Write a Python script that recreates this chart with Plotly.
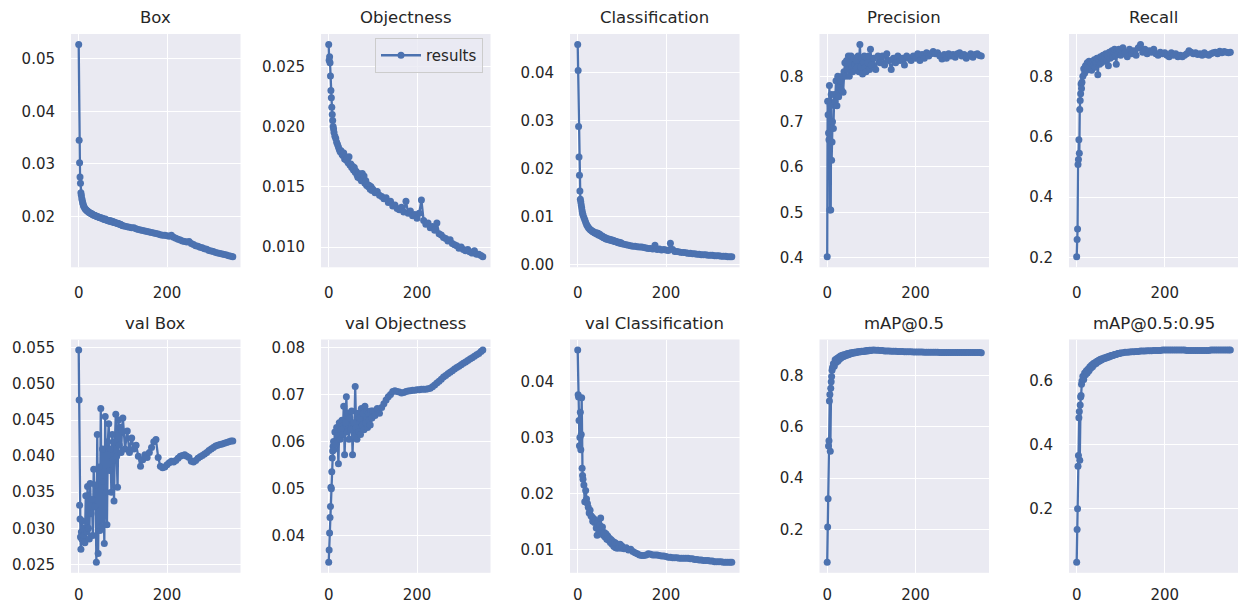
import plotly.graph_objects as go

# Training epochs at which values are logged
EPOCHS = list(range(0, 12)) + list(range(12, 100, 2)) + list(range(100, 350, 5)) + [349]

BOX = [
    0.0527, 0.0345, 0.0302, 0.0275, 0.0263, 0.0245, 0.0240, 0.0234, 0.0230, 0.0226, 0.0223, 0.0220,
    0.0218, 0.0215, 0.0213, 0.0211, 0.0210, 0.0208, 0.0207, 0.0206, 0.0205, 0.0205, 0.0203,
    0.0202, 0.0202, 0.0201, 0.0200, 0.0199, 0.0199, 0.0198, 0.0197, 0.0197, 0.0196, 0.0196,
    0.0195, 0.0194, 0.0195, 0.0193, 0.0193, 0.0192, 0.0191, 0.0192, 0.0190, 0.0191, 0.0189,
    0.0190, 0.0188, 0.0188, 0.0187, 0.0187, 0.0186, 0.0186, 0.0185, 0.0185, 0.0184, 0.0183,
    0.0182, 0.0181, 0.0180, 0.0179, 0.0178, 0.0178, 0.0176, 0.0175, 0.0174, 0.0173,
    0.0172, 0.0171, 0.0170, 0.0169, 0.0168, 0.0167, 0.0166, 0.0165, 0.0164, 0.0164,
    0.0163, 0.0162, 0.0164, 0.0160, 0.0158, 0.0156, 0.0155, 0.0153, 0.0152, 0.0151,
    0.0152, 0.0148, 0.0146, 0.0144, 0.0143, 0.0141, 0.0140, 0.0138, 0.0137, 0.0135,
    0.0134, 0.0133, 0.0131, 0.0130, 0.0129, 0.0128, 0.0127, 0.0126, 0.0125, 0.0124,
    0.0123,
]

OBJECTNESS = [
    0.0268, 0.0255, 0.0258, 0.0253, 0.0242, 0.0230, 0.0224, 0.0216, 0.0210, 0.0205, 0.0200, 0.0198,
    0.0195, 0.0192, 0.0190, 0.0187, 0.0185, 0.0183, 0.0181, 0.0179, 0.0180, 0.0177, 0.0176,
    0.0178, 0.0173, 0.0175, 0.0172, 0.0174, 0.0170, 0.0175, 0.0168, 0.0169, 0.0166, 0.0167,
    0.0164, 0.0166, 0.0162, 0.0163, 0.0160, 0.0158, 0.0161, 0.0157, 0.0160, 0.0155, 0.0161,
    0.0156, 0.0159, 0.0153, 0.0155, 0.0151, 0.0152, 0.0150, 0.0151, 0.0148, 0.0150, 0.0147,
    0.0148, 0.0145, 0.0146, 0.0143, 0.0142, 0.0140, 0.0141, 0.0137, 0.0138, 0.0134,
    0.0135, 0.0132, 0.0131, 0.0133, 0.0129, 0.0138, 0.0128, 0.0130, 0.0126, 0.0127,
    0.0124, 0.0128, 0.0139, 0.0122, 0.0119, 0.0120, 0.0116, 0.0117, 0.0114, 0.0120,
    0.0111, 0.0110, 0.0108, 0.0107, 0.0105, 0.0106, 0.0103, 0.0102, 0.0101, 0.0099,
    0.0100, 0.0098, 0.0097, 0.0098, 0.0096, 0.0095, 0.0097, 0.0094, 0.0094, 0.0093,
    0.0092,
]

CLASSIFICATION = [
    0.0459, 0.0405, 0.0288, 0.0224, 0.0186, 0.0153, 0.0136, 0.0130, 0.0124, 0.0118, 0.0112, 0.0107,
    0.0103, 0.0098, 0.0093, 0.0088, 0.0083, 0.0080, 0.0077, 0.0075, 0.0073, 0.0071, 0.0070,
    0.0068, 0.0068, 0.0066, 0.0065, 0.0066, 0.0063, 0.0065, 0.0061, 0.0063, 0.0060, 0.0058,
    0.0059, 0.0056, 0.0055, 0.0056, 0.0053, 0.0054, 0.0052, 0.0053, 0.0051, 0.0052, 0.0050,
    0.0051, 0.0049, 0.0050, 0.0048, 0.0047, 0.0048, 0.0046, 0.0045, 0.0046, 0.0044, 0.0045,
    0.0043, 0.0042, 0.0041, 0.0040, 0.0039, 0.0038, 0.0038, 0.0037, 0.0036, 0.0036,
    0.0035, 0.0034, 0.0033, 0.0033, 0.0032, 0.0040, 0.0031, 0.0032, 0.0030, 0.0031,
    0.0030, 0.0029, 0.0044, 0.0031, 0.0027, 0.0027, 0.0026, 0.0025, 0.0025, 0.0024,
    0.0023, 0.0023, 0.0022, 0.0022, 0.0021, 0.0021, 0.0020, 0.0020, 0.0020, 0.0019,
    0.0019, 0.0019, 0.0018, 0.0018, 0.0018, 0.0017, 0.0017, 0.0017, 0.0016, 0.0016,
    0.0016,
]

PRECISION = [
    0.402, 0.745, 0.715, 0.675, 0.660, 0.780, 0.505, 0.735, 0.505, 0.760, 0.615, 0.655,
    0.700, 0.685, 0.760, 0.745, 0.790, 0.735, 0.800, 0.755, 0.775, 0.790, 0.770,
    0.800, 0.765, 0.810, 0.830, 0.800, 0.835, 0.815, 0.845, 0.800, 0.830, 0.845,
    0.820, 0.810, 0.840, 0.825, 0.815, 0.835, 0.820, 0.845, 0.810, 0.870, 0.820,
    0.840, 0.805, 0.830, 0.845, 0.820, 0.810, 0.840, 0.830, 0.845, 0.815, 0.860,
    0.825, 0.840, 0.815, 0.845, 0.830, 0.845, 0.825, 0.850, 0.835, 0.815,
    0.840, 0.830, 0.845, 0.835, 0.840, 0.825, 0.845, 0.840, 0.835, 0.845,
    0.840, 0.850, 0.835, 0.848, 0.840, 0.852, 0.845, 0.850, 0.855, 0.850,
    0.852, 0.845, 0.838, 0.848, 0.840, 0.850, 0.845, 0.848, 0.842, 0.850,
    0.852, 0.845, 0.848, 0.840, 0.845, 0.850, 0.842, 0.848, 0.850, 0.846,
    0.845,
]

RECALL = [
    0.203, 0.260, 0.295, 0.508, 0.525, 0.590, 0.545, 0.690, 0.720, 0.742, 0.775, 0.760,
    0.780, 0.800, 0.825, 0.810, 0.835, 0.820, 0.845, 0.825, 0.850, 0.830, 0.845,
    0.820, 0.850, 0.835, 0.855, 0.830, 0.845, 0.860, 0.805, 0.850, 0.840, 0.865,
    0.845, 0.860, 0.870, 0.850, 0.865, 0.875, 0.855, 0.870, 0.835, 0.880, 0.860,
    0.875, 0.885, 0.865, 0.880, 0.890, 0.870, 0.840, 0.885, 0.875, 0.890, 0.880,
    0.870, 0.895, 0.880, 0.865, 0.890, 0.875, 0.885, 0.870, 0.895, 0.905,
    0.880, 0.890, 0.875, 0.885, 0.880, 0.890, 0.875, 0.870, 0.880, 0.875,
    0.878, 0.870, 0.865, 0.878, 0.870, 0.875, 0.865, 0.870, 0.865, 0.870,
    0.875, 0.885, 0.880, 0.875, 0.878, 0.872, 0.875, 0.870, 0.878, 0.872,
    0.870, 0.875, 0.878, 0.880, 0.875, 0.883, 0.878, 0.882, 0.880, 0.878,
    0.880,
]

VAL_BOX = [
    0.0547, 0.0478, 0.0332, 0.0313, 0.0288, 0.0271, 0.0295, 0.0285, 0.0310, 0.0290, 0.0283, 0.0300,
    0.0290, 0.0280, 0.0345, 0.0295, 0.0358, 0.0300, 0.0285, 0.0362, 0.0320, 0.0340, 0.0290,
    0.0382, 0.0330, 0.0360, 0.0253, 0.0430, 0.0265, 0.0385, 0.0297, 0.0466, 0.0302, 0.0410,
    0.0365, 0.0279, 0.0455, 0.0350, 0.0305, 0.0420, 0.0445, 0.0380, 0.0410, 0.0350, 0.0430,
    0.0395, 0.0338, 0.0420, 0.0458, 0.0400, 0.0357, 0.0450, 0.0415, 0.0440, 0.0405, 0.0435,
    0.0453, 0.0410, 0.0435, 0.0405, 0.0425, 0.0410, 0.0415, 0.0400, 0.0386, 0.0395,
    0.0402, 0.0398, 0.0405, 0.0412, 0.0420, 0.0423, 0.0398, 0.0386, 0.0384, 0.0385,
    0.0388, 0.0391, 0.0393, 0.0392, 0.0394, 0.0397, 0.0400, 0.0401, 0.0402, 0.0400,
    0.0398, 0.0393, 0.0392, 0.0394, 0.0397, 0.0399, 0.0401, 0.0403, 0.0405, 0.0408,
    0.0410, 0.0412, 0.0414, 0.0415, 0.0416, 0.0417, 0.0418, 0.0419, 0.0420, 0.0421,
    0.0421,
]

VAL_OBJECTNESS = [
    0.0344, 0.0370, 0.0406, 0.0439, 0.0462, 0.0503, 0.0500, 0.0536, 0.0565, 0.0580, 0.0590, 0.0600,
    0.0583, 0.0620, 0.0595, 0.0630, 0.0612, 0.0553, 0.0640, 0.0605, 0.0625, 0.0645, 0.0615,
    0.0675, 0.0572, 0.0640, 0.0695, 0.0620, 0.0660, 0.0605, 0.0650, 0.0625, 0.0665, 0.0572,
    0.0640, 0.0610, 0.0717, 0.0630, 0.0605, 0.0660, 0.0620, 0.0650, 0.0615, 0.0670, 0.0635,
    0.0660, 0.0625, 0.0675, 0.0640, 0.0665, 0.0630, 0.0660, 0.0645, 0.0635, 0.0665, 0.0650,
    0.0665, 0.0655, 0.0670, 0.0660, 0.0672, 0.0680, 0.0688, 0.0695, 0.0700, 0.0706,
    0.0708, 0.0706, 0.0705, 0.0703, 0.0704, 0.0706, 0.0707, 0.0708, 0.0709, 0.0709,
    0.0710, 0.0710, 0.0711, 0.0711, 0.0711, 0.0712, 0.0713, 0.0716, 0.0720, 0.0724,
    0.0728, 0.0732, 0.0737, 0.0740, 0.0744, 0.0747, 0.0750, 0.0754, 0.0757, 0.0760,
    0.0763, 0.0766, 0.0769, 0.0772, 0.0775, 0.0778, 0.0781, 0.0784, 0.0787, 0.0791,
    0.0794,
]

VAL_CLASSIFICATION = [
    0.0456, 0.0376, 0.0372, 0.0330, 0.0285, 0.0300, 0.0345, 0.0278, 0.0305, 0.0371, 0.0245, 0.0232,
    0.0225, 0.0215, 0.0185, 0.0205, 0.0190, 0.0182, 0.0175, 0.0165, 0.0170, 0.0160, 0.0158,
    0.0150, 0.0155, 0.0148, 0.0152, 0.0138, 0.0125, 0.0148, 0.0135, 0.0143, 0.0156, 0.0132,
    0.0140, 0.0125, 0.0130, 0.0122, 0.0128, 0.0118, 0.0124, 0.0116, 0.0120, 0.0112, 0.0117,
    0.0109, 0.0114, 0.0105, 0.0112, 0.0103, 0.0110, 0.0102, 0.0108, 0.0104, 0.0109, 0.0102,
    0.0106, 0.0101, 0.0103, 0.0099, 0.0100, 0.0096, 0.0094, 0.0092, 0.0090, 0.0089,
    0.0089, 0.0090, 0.0092, 0.0091, 0.0090, 0.0090, 0.0090, 0.0089, 0.0088, 0.0088,
    0.0087, 0.0086, 0.0086, 0.0085, 0.0085, 0.0085, 0.0084, 0.0084, 0.0084, 0.0084,
    0.0084, 0.0083, 0.0083, 0.0082, 0.0082, 0.0081, 0.0081, 0.0080, 0.0080, 0.0080,
    0.0079, 0.0079, 0.0078, 0.0078, 0.0078, 0.0078, 0.0077, 0.0077, 0.0077, 0.0077,
    0.0077,
]

MAP50 = [
    0.073, 0.210, 0.320, 0.525, 0.545, 0.700, 0.725, 0.505, 0.750, 0.775, 0.795, 0.820,
    0.830, 0.845, 0.835, 0.860, 0.850, 0.865, 0.855, 0.870, 0.862, 0.875, 0.868,
    0.878, 0.872, 0.880, 0.875, 0.882, 0.878, 0.885, 0.880, 0.886, 0.883, 0.888,
    0.885, 0.889, 0.887, 0.890, 0.888, 0.891, 0.890, 0.892, 0.891, 0.893, 0.892,
    0.894, 0.893, 0.894, 0.894, 0.895, 0.895, 0.896, 0.895, 0.896, 0.897, 0.896,
    0.897, 0.898, 0.897, 0.897, 0.896, 0.896, 0.895, 0.895, 0.895, 0.894,
    0.894, 0.894, 0.893, 0.893, 0.893, 0.892, 0.892, 0.892, 0.892, 0.891,
    0.891, 0.891, 0.891, 0.891, 0.890, 0.890, 0.890, 0.890, 0.890, 0.890,
    0.890, 0.889, 0.889, 0.889, 0.889, 0.889, 0.889, 0.889, 0.889, 0.889,
    0.889, 0.889, 0.889, 0.889, 0.889, 0.889, 0.889, 0.889, 0.889, 0.889,
    0.888,
]

MAP50_95 = [
    0.033, 0.135, 0.200, 0.333, 0.367, 0.485, 0.505, 0.352, 0.525, 0.550, 0.555, 0.590,
    0.600, 0.615, 0.605, 0.625, 0.620, 0.632, 0.625, 0.638, 0.632, 0.645, 0.640,
    0.650, 0.645, 0.655, 0.652, 0.658, 0.655, 0.662, 0.660, 0.665, 0.663, 0.668,
    0.666, 0.670, 0.669, 0.672, 0.671, 0.674, 0.673, 0.676, 0.675, 0.678, 0.677,
    0.680, 0.679, 0.681, 0.681, 0.683, 0.683, 0.684, 0.685, 0.686, 0.686, 0.687,
    0.688, 0.689, 0.690, 0.690, 0.691, 0.692, 0.692, 0.693, 0.693, 0.694,
    0.694, 0.694, 0.695, 0.695, 0.695, 0.696, 0.696, 0.696, 0.696, 0.697,
    0.697, 0.697, 0.697, 0.697, 0.697, 0.697, 0.697, 0.697, 0.697, 0.697,
    0.696, 0.696, 0.696, 0.696, 0.696, 0.696, 0.696, 0.696, 0.696, 0.696,
    0.696, 0.697, 0.697, 0.697, 0.697, 0.697, 0.697, 0.697, 0.697, 0.697,
    0.697,
]

TITLES = ["Box", "Objectness", "Classification", "Precision", "Recall",
          "val Box", "val Objectness", "val Classification", "mAP@0.5", "mAP@0.5:0.95"]
SERIES = [BOX, OBJECTNESS, CLASSIFICATION, PRECISION, RECALL,
          VAL_BOX, VAL_OBJECTNESS, VAL_CLASSIFICATION, MAP50, MAP50_95]

# y tick values and labels for each panel
Y_TICKS = [
    [0.02, 0.03, 0.04, 0.05],
    [0.010, 0.015, 0.020, 0.025],
    [0.00, 0.01, 0.02, 0.03, 0.04],
    [0.4, 0.5, 0.6, 0.7, 0.8],
    [0.2, 0.4, 0.6, 0.8],
    [0.025, 0.030, 0.035, 0.040, 0.045, 0.050, 0.055],
    [0.04, 0.05, 0.06, 0.07, 0.08],
    [0.01, 0.02, 0.03, 0.04],
    [0.2, 0.4, 0.6, 0.8],
    [0.2, 0.4, 0.6],
]
Y_TICK_FMT = ["%.2f", "%.3f", "%.2f", "%.1f", "%.1f", "%.3f", "%.2f", "%.2f", "%.1f", "%.1f"]
X_TICKS = [0, 200]

for s in SERIES:
    if len(s) != len(EPOCHS):
        raise ValueError(f"series length {len(s)} != {len(EPOCHS)}")

W, H = 1238, 603
BLUE = "#4C72B0"
BG = "#EAEAF2"
TEXT = "#262626"
FONT = "DejaVu Sans"

COL_LEFT = [71, 321, 570, 819.5, 1069]
PLOT_W = 169.5
ROW_TOP = [34, 339.5]
PLOT_H = 233.3

fig = go.Figure()
layout = {}
annotations = []
last_epoch = EPOCHS[-1]

for i, (title, ys) in enumerate(zip(TITLES, SERIES)):
    r, c = divmod(i, 5)
    n = i + 1
    xname = "x" if n == 1 else f"x{n}"
    yname = "y" if n == 1 else f"y{n}"
    fig.add_trace(go.Scatter(
        x=EPOCHS, y=ys, mode="lines+markers", name="results",
        xaxis=xname, yaxis=yname, showlegend=(i == 1),
        line=dict(color=BLUE, width=2.3),
        marker=dict(color=BLUE, size=7),
    ))
    x0 = COL_LEFT[c] / W
    x1 = min(COL_LEFT[c] + PLOT_W, W) / W
    y1 = 1 - ROW_TOP[r] / H
    y0 = 1 - (ROW_TOP[r] + PLOT_H) / H
    lo, hi = min(ys), max(ys)
    pad = 0.05 * (hi - lo)
    common = dict(
        showgrid=True, gridcolor="white", gridwidth=1.3, zeroline=False,
        showline=False, ticks="outside", tickcolor="rgba(0,0,0,0)",
        tickfont=dict(family=FONT, size=15, color=TEXT), automargin=False,
    )
    layout["xaxis" if n == 1 else f"xaxis{n}"] = dict(
        domain=[x0, x1], anchor=yname,
        range=[-0.05 * last_epoch, 1.05 * last_epoch],
        tickvals=X_TICKS, ticktext=[str(v) for v in X_TICKS],
        ticklen=(12 if r == 0 else 8), **common,
    )
    layout["yaxis" if n == 1 else f"yaxis{n}"] = dict(
        domain=[y0, y1], anchor=xname, range=[lo - pad, hi + pad],
        tickvals=Y_TICKS[i], ticktext=[Y_TICK_FMT[i] % v for v in Y_TICKS[i]],
        ticklen=12, **common,
    )
    annotations.append(dict(
        text=title, x=(x0 + x1) / 2, y=y1, xref="paper", yref="paper",
        xanchor="center", yanchor="bottom", yshift=5, showarrow=False,
        font=dict(family=FONT, size=16.5, color=TEXT),
    ))

fig.update_layout(
    width=W, height=H,
    margin=dict(l=0, r=0, t=0, b=0),
    paper_bgcolor="white", plot_bgcolor=BG,
    font=dict(family=FONT, color=TEXT),
    annotations=annotations,
    showlegend=True,
    legend=dict(
        x=483 / W, xanchor="right", y=1 - 38 / H, yanchor="top",
        bgcolor="rgba(234,234,242,0.8)", bordercolor="#CCCCCC", borderwidth=1,
        itemwidth=40,
        font=dict(family=FONT, size=15, color=TEXT),
    ),
    **layout,
)

fig.write_html("out.html")
